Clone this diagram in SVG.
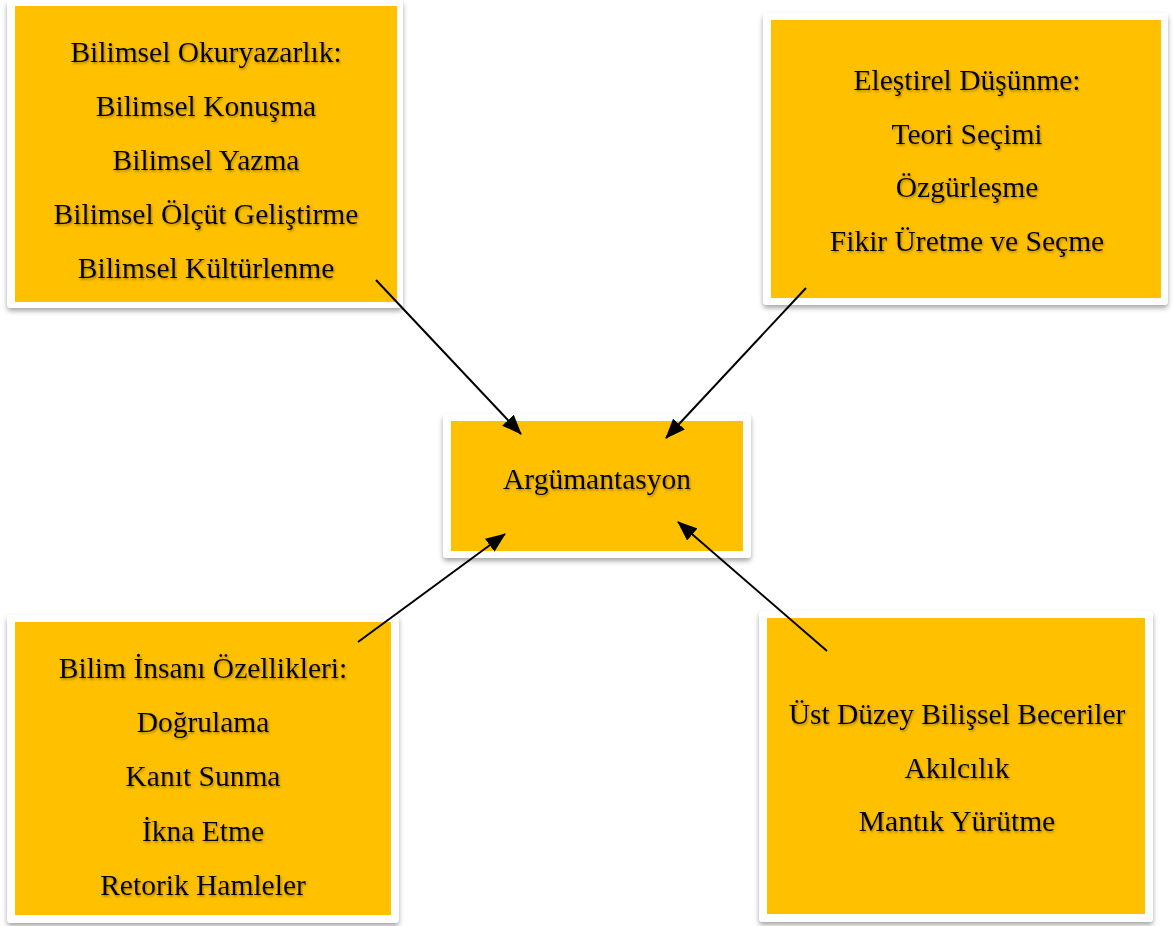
<svg xmlns="http://www.w3.org/2000/svg" width="1173" height="926" viewBox="0 0 1173 926">
  <defs>
    <filter id="cardShadow" x="-10%" y="-10%" width="120%" height="125%">
      <feDropShadow dx="0" dy="3" stdDeviation="2.5" flood-color="#000" flood-opacity="0.35"/>
    </filter>
    <filter id="textShadow" x="-5%" y="-20%" width="110%" height="150%">
      <feDropShadow dx="1" dy="1.5" stdDeviation="1" flood-color="#6b5200" flood-opacity="0.6"/>
    </filter>
    <marker id="arrow" viewBox="0 0 20 16" refX="19" refY="8" markerWidth="20" markerHeight="16" markerUnits="userSpaceOnUse" orient="auto">
      <path d="M0,0 L20,8 L0,16 Z" fill="#000"/>
    </marker>
  </defs>
  <style>
    .card { fill: #ffffff; filter: url(#cardShadow); }
    .fill { fill: #ffc000; }
    .label { font-family: "Liberation Serif", "Times New Roman", serif; font-size: 29.5px; fill: #000; text-anchor: middle; filter: url(#textShadow); }
    .link { stroke: #000; stroke-width: 2; fill: none; marker-end: url(#arrow); }
  </style>
  <rect width="1173" height="926" fill="#ffffff"/>

  <g id="bilimsel-okuryazarlik">
    <rect class="card" x="7" y="0" width="396" height="308" rx="4"/>
    <rect class="fill" x="15" y="6" width="382" height="296"/>
    <text class="label" x="206" y="61.5">Bilimsel Okuryazarlık:</text>
    <text class="label" x="206" y="115.5">Bilimsel Konuşma</text>
    <text class="label" x="206" y="169.5">Bilimsel Yazma</text>
    <text class="label" x="206" y="223.5">Bilimsel Ölçüt Geliştirme</text>
    <text class="label" x="206" y="277.5">Bilimsel Kültürlenme</text>
  </g>

  <g id="elestirel-dusunme">
    <rect class="card" x="763" y="13" width="405" height="292" rx="4"/>
    <rect class="fill" x="771" y="20" width="390" height="278"/>
    <text class="label" x="967" y="89.5">Eleştirel Düşünme:</text>
    <text class="label" x="967" y="143.5">Teori Seçimi</text>
    <text class="label" x="967" y="196.5">Özgürleşme</text>
    <text class="label" x="967" y="250.5">Fikir Üretme ve Seçme</text>
  </g>

  <g id="argumantasyon">
    <rect class="card" x="443" y="414" width="308" height="144" rx="4"/>
    <rect class="fill" x="451" y="421" width="292" height="130"/>
    <text class="label" x="597" y="488.5">Argümantasyon</text>
  </g>

  <g id="bilim-insani">
    <rect class="card" x="7" y="615" width="392" height="308" rx="4"/>
    <rect class="fill" x="15" y="622" width="376" height="293"/>
    <text class="label" x="203" y="677.5">Bilim İnsanı Özellikleri:</text>
    <text class="label" x="203" y="731.5">Doğrulama</text>
    <text class="label" x="203" y="785.5">Kanıt Sunma</text>
    <text class="label" x="203" y="840.5">İkna Etme</text>
    <text class="label" x="203" y="894.5">Retorik Hamleler</text>
  </g>

  <g id="ust-duzey">
    <rect class="card" x="759" y="611" width="394" height="311" rx="4"/>
    <rect class="fill" x="767" y="618" width="378" height="296"/>
    <text class="label" x="957" y="723.5">Üst Düzey Bilişsel Beceriler</text>
    <text class="label" x="957" y="777.5">Akılcılık</text>
    <text class="label" x="957" y="830.5">Mantık Yürütme</text>
  </g>

  <g id="connectors">
    <line class="link" x1="376" y1="280" x2="521" y2="434"/>
    <line class="link" x1="806" y1="288" x2="666" y2="438"/>
    <line class="link" x1="358" y1="642" x2="505" y2="534"/>
    <line class="link" x1="827" y1="651" x2="678" y2="522"/>
  </g>
</svg>
